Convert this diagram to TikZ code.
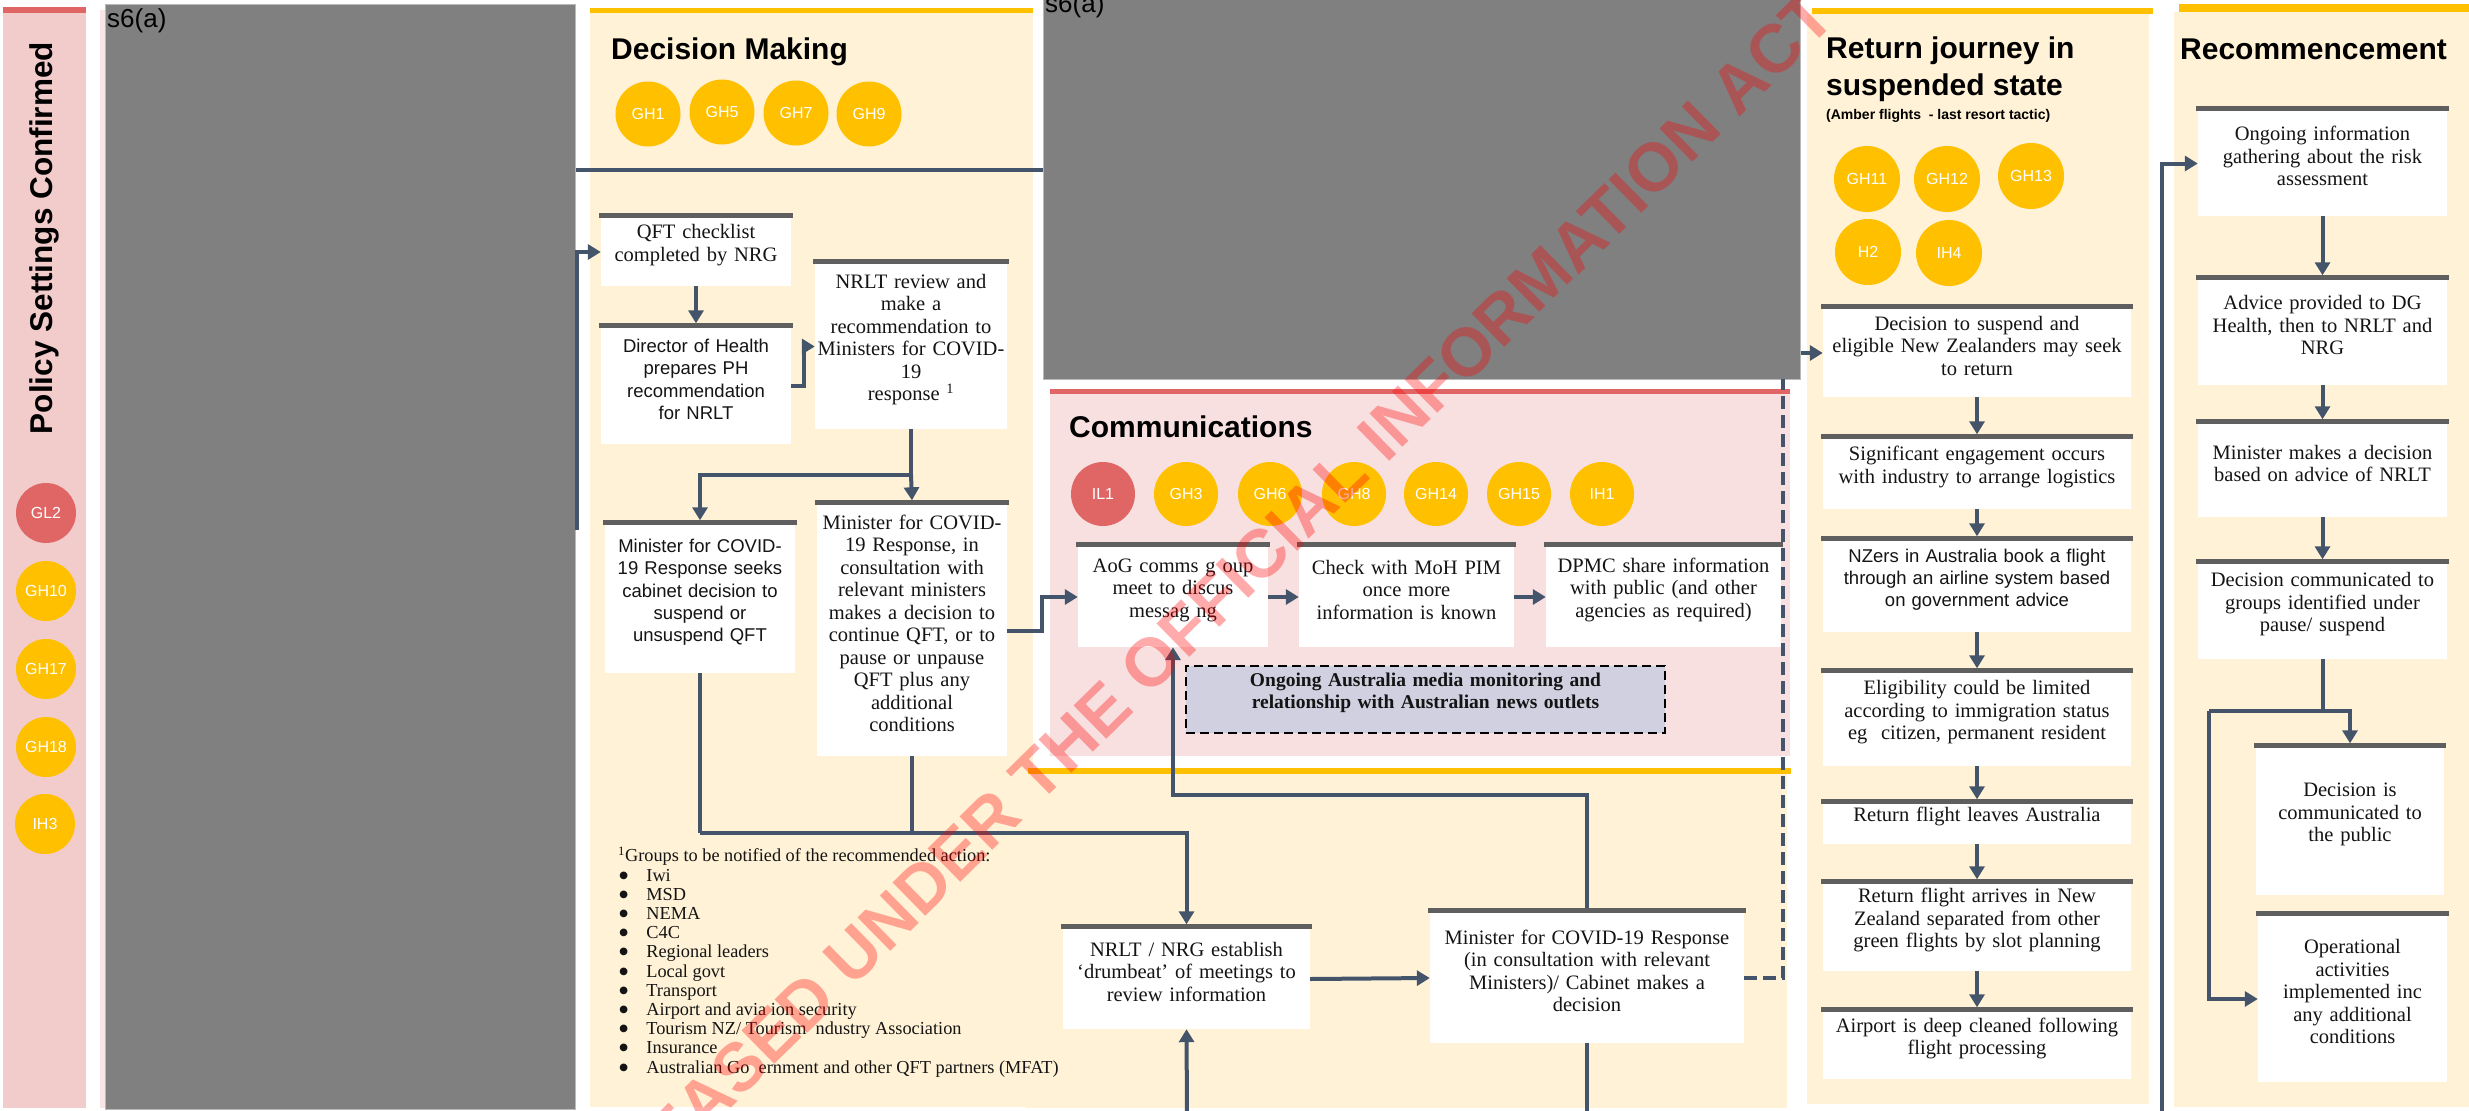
\documentclass[tikz,border=0pt]{standalone}
\usepackage{fontspec}
\setmainfont{Liberation Serif}
\newfontfamily\arial{Liberation Sans}
\usetikzlibrary{arrows.meta,fit}

\definecolor{ylwfill}{HTML}{FFF2D6}
\definecolor{ylw}{HTML}{FFC000}
\definecolor{pinkL}{HTML}{F2CBCB}
\definecolor{pinkC}{HTML}{F8E0E0}
\definecolor{redc}{HTML}{E06666}
\definecolor{barc}{HTML}{5F5F5F}
\definecolor{connc}{HTML}{44546A}
\definecolor{lav}{HTML}{D0D0E0}
\definecolor{redact}{HTML}{808080}
\definecolor{txt}{HTML}{141414}

\newcommand\srf{\fontsize{20.5}{22.5}\selectfont}
\newcommand\snf{\arial\fontsize{18.5}{22.4}\selectfont}
\newcommand\ttlf{\arial\bfseries\fontsize{30}{37}\selectfont}
\newcommand\circf{\arial\fontsize{16}{16}\selectfont}
\newcommand\fnf{\fontsize{18.3}{19.2}\selectfont}
\newcommand\blt{\raisebox{-5pt}{\smash{\fontsize{32}{19.2}\selectfont\textbullet}}}
% grey rule on top of a process box
\newcommand\tbar[1]{\fill[barc] ([xshift=-2pt]#1.north west) rectangle ([xshift=2pt,yshift=4.5pt]#1.north east);}

\tikzset{
  wire/.style={draw=connc, line width=4pt},
  arr/.style={wire, -{Triangle[length=13pt,width=15pt]}},
  pbox/.style={fit={#1}, inner sep=0pt, fill=white, align=center, text=txt, font=\srf},
  sbox/.style={pbox={#1}, font=\snf},
  gc/.style={circle, fill=ylw, text=white, minimum size=#1, inner sep=0pt, font=\circf},
  rc/.style={gc=#1, fill=redc},
  ttl/.style={anchor=base west, inner sep=0pt, font=\ttlf, text=black},
  redbox/.style={fit={#1}, inner sep=0pt, fill=redact, draw=gray!55, line width=1pt},
}

\begin{document}
\begin{tikzpicture}[x=1pt, y=-1pt]
\fill[white] (0,0) rectangle (2469,1111);
\useasboundingbox (0,0) rectangle (2469,1111);

% ---------- column panels ----------
\fill[pinkL] (3,13) rectangle (86,1108);
\fill[redc] (3,7) rectangle (86,13);
\fill[ylwfill] (590,13) rectangle (1033,1107);
\fill[ylw] (590,8) rectangle (1033,13);
\fill[pinkC] (1050,394) rectangle (1790,756);
\fill[redc] (1050,389) rectangle (1790,394);
\fill[ylwfill] (1026,774) rectangle (1787,1108);
\fill[ylw] (1028,768) rectangle (1791,774);
\fill[ylwfill] (1807,14) rectangle (2149,1104);
\fill[ylw] (1812,8) rectangle (2153,14);
\fill[ylwfill] (2174,12) rectangle (2469,1107);
\fill[ylw] (2179,4) rectangle (2469,12);
\fill[pinkL!50] (100,10) rectangle (105,1108);

% ---------- policy settings column ----------
\node[rotate=90, inner sep=0pt, font=\arial\bfseries\fontsize{31.5}{32}\selectfont] (pstitle) at (44,238) {Policy Settings Confirmed};
\node[rc=60pt] (gl2) at (46,513) {GL2};
\node[gc=60pt] (gh10) at (46,591) {GH10};
\node[gc=60pt] (gh17) at (46,669) {GH17};
\node[gc=60pt] (gh18) at (46,747) {GH18};
\node[gc=60pt] (ih3) at (45,824) {IH3};

% ---------- withheld areas ----------
\node[redbox={(105,4) (575,1109)}] (red1) {};
\node[redbox={(1043,-5) (1800,379)}] (red2) {};
\node[anchor=base west, inner sep=0pt, font=\arial\fontsize{26}{26}\selectfont] (s6a) at (107,27) {s6(a)};
\node[anchor=base west, inner sep=0pt, font=\arial\fontsize{26}{26}\selectfont] (s6b) at (1045,12) {s6(a)};

% ---------- decision making ----------
\node[ttl] (dmtitle) at (611,59) {Decision Making};
\node[gc=65pt] (gh1) at (648,114) {GH1};
\node[gc=65pt] (gh5) at (722,112) {GH5};
\node[gc=65pt] (gh7) at (796,113) {GH7};
\node[gc=65pt] (gh9) at (869,114) {GH9};

\node[pbox={(601,218) (791,286)}] (qft) {QFT checklist\\completed by NRG};
\node[sbox={(601,328) (791,444)}] (dir) {Director of Health\\prepares PH\\recommendation\\for NRLT};
\node[pbox={(815,264) (1007,429)}] (nrlt) {NRLT review and\\make a\\recommendation to\\Ministers for COVID-\\19\\response \textsuperscript{1}};
\node[sbox={(605,525) (795,673)}] (minseek) {Minister for COVID-\\19 Response seeks\\cabinet decision to\\suspend or\\unsuspend QFT};
\node[pbox={(817,505) (1007,756)}] (mincons) {Minister for COVID-\\19 Response, in\\consultation with\\relevant ministers\\makes a decision to\\continue QFT, or to\\pause or unpause\\QFT plus any\\additional\\conditions};
\tbar{qft}\tbar{dir}\tbar{nrlt}\tbar{minseek}\tbar{mincons}

\node[anchor=north west, inner sep=0pt, font=\fnf, text=txt] (notes) at (618,847) {%
\begin{tabular}{@{}l@{\hspace{17pt}}l@{}}
\multicolumn{2}{@{}l@{}}{\textsuperscript{1}Groups to be notified of the recommended action:}\\
\blt & Iwi\\
\blt & MSD\\
\blt & NEMA\\
\blt & C4C\\
\blt & Regional leaders\\
\blt & Local govt\\
\blt & Transport\\
\blt & Airport and avia ion security\\
\blt & Tourism NZ/ Tourism \ ndustry Association\\
\blt & Insurance\\
\blt & Australian Go \ ernment and other QFT partners (MFAT)
\end{tabular}};

% ---------- communications ----------
\node[ttl] (comtitle) at (1069,437) {Communications};
\node[rc=64pt] (il1) at (1103,494) {IL1};
\node[gc=64pt] (gh3) at (1186,494) {GH3};
\node[gc=64pt] (gh6) at (1270,494) {GH6};
\node[gc=64pt] (gh8) at (1354,494) {GH8};
\node[gc=64pt] (gh14) at (1436,494) {GH14};
\node[gc=64pt] (gh15) at (1519,494) {GH15};
\node[gc=64pt] (ih1) at (1602,494) {IH1};

\node[pbox={(1078,547) (1268,647)}] (aog) {AoG comms g oup\\meet to discus\\messag ng};
\node[pbox={(1299,547) (1514,647)}] (check) {Check with MoH PIM\\once more\\information is known};
\node[pbox={(1546,547) (1781,647)}] (dpmc) {DPMC share information\\with public (and other\\agencies as required)};
\tbar{aog}\tbar{check}\tbar{dpmc}
\node[fit={(1186,666) (1665,733)}, inner sep=0pt, fill=lav, draw=black, line width=2.5pt, dash pattern=on 9pt off 5pt, align=center, text=txt, font=\bfseries\fontsize{19.5}{22.5}\selectfont] (media) {Ongoing Australia media monitoring and\\relationship with Australian news outlets};

% ---------- drumbeat and decision ----------
\node[pbox={(1063,929) (1310,1029)}] (drum) {NRLT / NRG establish\\‘drumbeat’ of meetings to\\review information};
\node[pbox={(1430,913) (1744,1043)}] (mindec) {Minister for COVID-19 Response\\(in consultation with relevant\\Ministers)/ Cabinet makes a\\decision};
\tbar{drum}\tbar{mindec}

% ---------- return journey ----------
\node[ttl] (rjt1) at (1826,58) {Return journey in};
\node[ttl] (rjt2) at (1826,95) {suspended state};
\node[anchor=base west, inner sep=0pt, font=\arial\bfseries\fontsize{14}{14}\selectfont] (rjsub) at (1826,119) {(Amber flights \ - last resort tactic)};
\node[gc=66pt] (gh11) at (1867,179) {GH11};
\node[gc=66pt] (gh12) at (1947,179) {GH12};
\node[gc=66pt] (gh13) at (2031,176) {GH13};
\node[gc=66pt] (h2) at (1868,252) {H2};
\node[gc=66pt] (ih4) at (1949,253) {IH4};

\node[pbox={(1823,309) (2131,397)}] (r1) {Decision to suspend and\\eligible New Zealanders may seek\\to return};
\node[pbox={(1823,439) (2131,509)}] (r2) {Significant engagement occurs\\with industry to arrange logistics};
\node[sbox={(1823,541) (2131,632)}] (r3) {NZers in Australia book a flight\\through an airline system based\\on government advice};
\node[pbox={(1823,673) (2131,766)}] (r4) {Eligibility could be limited\\according to immigration status\\eg \ citizen, permanent resident};
\node[pbox={(1823,804) (2131,844)}] (r5) {Return flight leaves Australia};
\node[pbox={(1823,884) (2131,971)}] (r6) {Return flight arrives in New\\Zealand separated from other\\green flights by slot planning};
\node[pbox={(1823,1012) (2131,1079)}] (r7) {Airport is deep cleaned following\\flight processing};
\tbar{r1}\tbar{r2}\tbar{r3}\tbar{r4}\tbar{r5}\tbar{r6}\tbar{r7}

% ---------- recommencement ----------
\node[ttl] (rctitle) at (2180,59) {Recommencement};
\node[pbox={(2198,111) (2447,216)}] (rc1) {Ongoing information\\gathering about the risk\\assessment};
\node[pbox={(2198,280) (2447,385)}] (rc2) {Advice provided to DG\\Health, then to NRLT and\\NRG};
\node[pbox={(2198,424) (2447,517)}] (rc3) {Minister makes a decision\\based on advice of NRLT};
\node[pbox={(2198,564) (2447,659)}] (rc4) {Decision communicated to\\groups identified under\\pause/ suspend};
\node[pbox={(2256,748) (2444,895)}] (rc5) {Decision is\\communicated to\\the public};
\node[pbox={(2258,916) (2447,1082)}] (rc6) {Operational\\activities\\implemented inc\\any additional\\conditions};
\tbar{rc1}\tbar{rc2}\tbar{rc3}\tbar{rc4}\tbar{rc5}\tbar{rc6}

% ---------- connectors ----------
\coordinate (src1) at (577,530);
\coordinate (jn) at (911,475);
\coordinate (jb) at (700,833);
\coordinate (bot1) at (1187,1115);
\coordinate (bot2) at (2162,1115);
\coordinate (kk) at (2209,711);
\coordinate (dtop) at (1783,379);

\draw[wire] (red1.east |- 0,170) -- (red2.west |- 0,170);
\draw[arr] (src1) |- (qft.west);
\draw[arr] (qft.south) -- ([yshift=4.5pt]dir.north);
\draw[arr] (dir.east) -- ++(13,0) |- (nrlt.west);
\draw[wire] (nrlt.south) -- (jn);
\draw[arr] (jn) -| ([yshift=4.5pt]minseek.north);
\draw[arr] (jn) -- ([yshift=4.5pt]mincons.north);
\draw[arr] (mincons.east) -- ++(35,0) |- (aog.west);
\draw[arr] (aog.east) -- (check.west);
\draw[arr] (check.east) -- (dpmc.west);
\draw[wire] (minseek.south) -- (jb);
\draw[wire] (mincons.south) -- (mincons.south |- jb);
\draw[arr] (jb) -| ([yshift=4.5pt]drum.north);
\draw[arr] ([yshift=4.5pt]mindec.north) |- (aog.south |- 0,795) -- (aog.south);
\draw[arr] (bot1) -- (drum.south);
\draw[arr] (drum.east) -- (mindec.west);
\draw[wire] (mindec.south) -- (mindec.south |- bot1);
\draw[wire, dash pattern=on 13pt off 6pt] (mindec.east) -| (dtop);
\draw[arr] (red2.east |- r1.west) -- (r1.west);

\draw[arr] (r1.south) -- ([yshift=4.5pt]r2.north);
\draw[arr] (r2.south) -- ([yshift=4.5pt]r3.north);
\draw[arr] (r3.south) -- ([yshift=4.5pt]r4.north);
\draw[arr] (r4.south) -- ([yshift=4.5pt]r5.north);
\draw[arr] (r5.south) -- ([yshift=4.5pt]r6.north);
\draw[arr] (r6.south) -- ([yshift=4.5pt]r7.north);

\draw[arr] (bot2) |- (rc1.west);
\draw[arr] (rc1.south) -- ([yshift=4.5pt]rc2.north);
\draw[arr] (rc2.south) -- ([yshift=4.5pt]rc3.north);
\draw[arr] (rc3.south) -- ([yshift=4.5pt]rc4.north);
\draw[wire] (rc4.south) -- (rc4.south |- kk);
\draw[arr] (kk) -| ([yshift=4.5pt]rc5.north);
\draw[arr] (kk) |- (rc6.west);

% ---------- release stamp ----------
\node[rotate=44.5, inner sep=0pt, text=red, opacity=0.33, font=\arial\bfseries\fontsize{68}{68}\selectfont] (stamp) at (1190,624) {RELEASED UNDER THE OFFICIAL INFORMATION ACT};
\end{tikzpicture}
\end{document}
